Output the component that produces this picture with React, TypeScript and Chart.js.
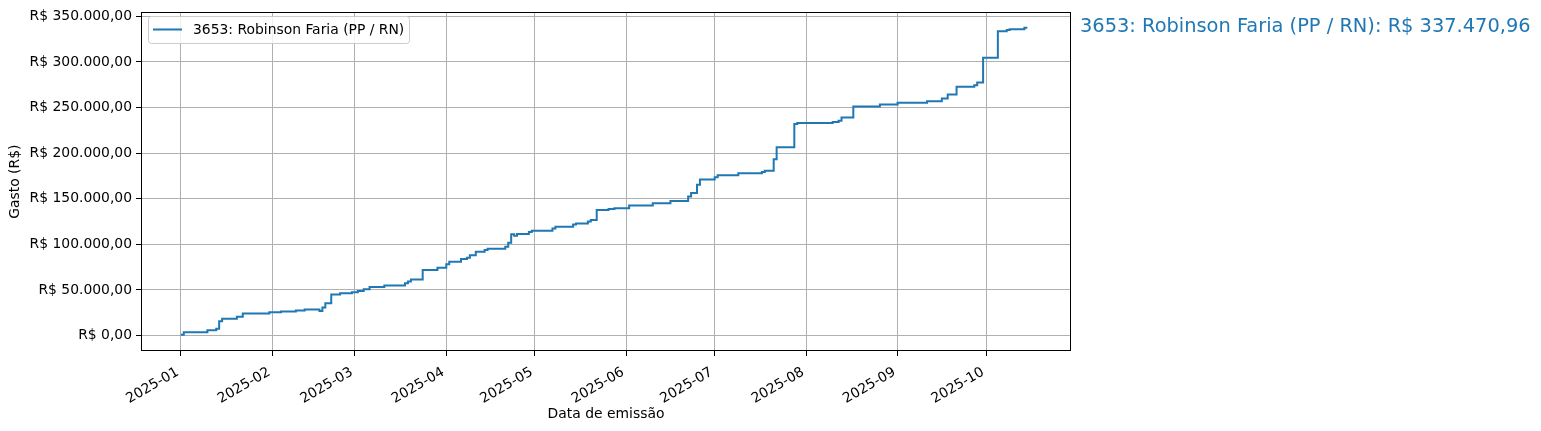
import React, { useEffect, useRef } from 'react';
import { Chart, registerables } from 'chart.js';

Chart.register(...registerables);

// ---- data ----
const emissionDates: string[] = [
  '2025-01-01', '2025-01-02', '2025-01-10', '2025-01-13', '2025-01-14', '2025-01-15',
  '2025-01-20', '2025-01-22', '2025-01-31', '2025-02-04', '2025-02-09', '2025-02-12',
  '2025-02-17', '2025-02-18', '2025-02-19', '2025-02-21', '2025-02-24', '2025-02-28',
  '2025-03-02', '2025-03-04', '2025-03-06', '2025-03-11', '2025-03-18', '2025-03-19',
  '2025-03-20', '2025-03-24', '2025-03-29', '2025-04-01', '2025-04-02', '2025-04-06',
  '2025-04-08', '2025-04-09', '2025-04-11', '2025-04-14', '2025-04-15', '2025-04-21',
  '2025-04-22', '2025-04-23', '2025-04-24', '2025-04-25', '2025-04-29', '2025-04-30',
  '2025-05-07', '2025-05-08', '2025-05-14', '2025-05-15', '2025-05-19', '2025-05-20',
  '2025-05-22', '2025-05-26', '2025-05-28', '2025-06-02', '2025-06-10', '2025-06-16',
  '2025-06-22', '2025-06-23', '2025-06-25', '2025-06-26', '2025-07-01', '2025-07-02',
  '2025-07-09', '2025-07-17', '2025-07-18', '2025-07-21', '2025-07-22', '2025-07-28',
  '2025-07-29', '2025-08-10', '2025-08-12', '2025-08-13', '2025-08-17', '2025-08-26',
  '2025-09-01', '2025-09-11', '2025-09-16', '2025-09-18', '2025-09-21', '2025-09-27',
  '2025-09-28', '2025-09-30', '2025-10-05', '2025-10-08', '2025-10-09', '2025-10-14',
  '2025-10-15',
];

const cumulativeSpend: number[] = [
  1000, 3600, 5800, 7600, 15600, 18500,
  20700, 24300, 25500, 26500, 27600, 28700,
  26900, 30900, 35600, 45000, 46500, 47600,
  49000, 50900, 53400, 54900, 57400, 59200,
  61400, 72000, 74500, 78200, 81000, 84000,
  85400, 88000, 91900, 93800, 95200, 97400,
  101800, 111200, 109400, 111500, 113700, 114800,
  117400, 119200, 121800, 122900, 125000, 126800,
  137700, 138800, 139600, 142600, 145200, 147500,
  152600, 156300, 165400, 171200, 173700, 175900,
  178100, 179200, 180700, 193400, 206500, 231900,
  233000, 234100, 235500, 239200, 251100, 253300,
  255200, 257000, 259900, 264200, 272900, 274400,
  277500, 304600, 333700, 335100, 335800, 337470.96,
  337470.96,
];

const monthTicks: string[] = [
  '2025-01', '2025-02', '2025-03', '2025-04', '2025-05',
  '2025-06', '2025-07', '2025-08', '2025-09', '2025-10',
];

const yTickValues: number[] = [0, 50000, 100000, 150000, 200000, 250000, 300000, 350000];

const seriesLabel = '3653: Robinson Faria (PP / RN)';
const totalLabel = 'R$ 337.470,96';
const xTitle = 'Data de emissão';
const yTitle = 'Gasto (R$)';

// ---- helpers ----
const DAY_MS = 86400000;
const BASE = Date.UTC(2025, 0, 1);
const toDay = (s: string): number => {
  const [y, m, d] = s.split('-').map(Number);
  return (Date.UTC(y, m - 1, d || 1) - BASE) / DAY_MS;
};

const fmtBRL = (v: number): string => {
  const neg = v < 0;
  const fixed = Math.abs(v).toFixed(2);
  const [intPart, dec] = fixed.split('.');
  const withDots = intPart.replace(/\B(?=(\d{3})+(?!\d))/g, '.');
  return (neg ? '-' : '') + 'R$ ' + withDots + ',' + dec;
};

const FONT = 'DejaVu Sans';
const BLUE = '#1f77b4';

const overlayPlugin = {
  id: 'overlayPlugin',
  afterDraw(chart: any) {
    const { ctx, chartArea: a } = chart;
    ctx.save();
    // frame (spines)
    ctx.strokeStyle = '#000';
    ctx.lineWidth = 1;
    ctx.strokeRect(
      Math.round(a.left) + 0.5,
      Math.round(a.top) + 0.5,
      Math.round(a.right - a.left) - 1,
      Math.round(a.bottom - a.top) - 1
    );
    // legend box
    const lx = 148.5, ly = 16.5, lw = 261, lh = 27, r = 3;
    ctx.beginPath();
    ctx.moveTo(lx + r, ly);
    ctx.lineTo(lx + lw - r, ly);
    ctx.quadraticCurveTo(lx + lw, ly, lx + lw, ly + r);
    ctx.lineTo(lx + lw, ly + lh - r);
    ctx.quadraticCurveTo(lx + lw, ly + lh, lx + lw - r, ly + lh);
    ctx.lineTo(lx + r, ly + lh);
    ctx.quadraticCurveTo(lx, ly + lh, lx, ly + lh - r);
    ctx.lineTo(lx, ly + r);
    ctx.quadraticCurveTo(lx, ly, lx + r, ly);
    ctx.closePath();
    ctx.fillStyle = 'rgba(255,255,255,0.8)';
    ctx.fill();
    ctx.strokeStyle = '#cccccc';
    ctx.lineWidth = 1;
    ctx.stroke();
    ctx.beginPath();
    ctx.moveTo(153, 29.5);
    ctx.lineTo(182, 29.5);
    ctx.strokeStyle = BLUE;
    ctx.lineWidth = 2;
    ctx.stroke();
    ctx.fillStyle = '#000';
    ctx.font = `13.9px "${FONT}"`;
    ctx.textBaseline = 'middle';
    ctx.textAlign = 'left';
    ctx.fillText(seriesLabel, 193, 30.5);
    // annotation at right
    ctx.fillStyle = BLUE;
    ctx.font = `19.4px "${FONT}"`;
    ctx.textBaseline = 'alphabetic';
    ctx.fillText(`${seriesLabel}: ${totalLabel}`, 1080, 32);
    ctx.restore();
  },
};

export default function App() {
  const canvasRef = useRef<HTMLCanvasElement | null>(null);

  useEffect(() => {
    const canvas = canvasRef.current;
    if (!canvas) return;
    const points = emissionDates.map((d, i) => ({ x: toDay(d), y: cumulativeSpend[i] }));
    const tickFont = { family: FONT, size: 13.9 };
    const chart = new Chart(canvas, {
      type: 'line',
      data: {
        datasets: [
          {
            label: seriesLabel,
            data: points,
            stepped: 'before',
            borderColor: BLUE,
            backgroundColor: BLUE,
            borderWidth: 2,
            pointRadius: 0,
            fill: false,
          },
        ],
      },
      options: {
        responsive: false,
        animation: false,
        devicePixelRatio: 1,
        layout: { padding: { left: 0, right: 470, top: 11, bottom: 0 } },
        plugins: {
          legend: { display: false },
          tooltip: { enabled: false },
        },
        scales: {
          x: {
            type: 'linear',
            min: -13.5,
            max: 301.8,
            afterBuildTicks: (s: any) => {
              s.ticks = monthTicks.map((m) => ({ value: toDay(m) }));
            },
            afterFit: (s: any) => {
              s.height = 80;
            },
            grid: { color: '#b0b0b0', lineWidth: 1, tickColor: '#000', tickLength: 5 },
            border: { display: false },
            ticks: {
              autoSkip: false,
              maxRotation: 30,
              minRotation: 30,
              padding: 8,
              labelOffset: -3,
              color: '#000',
              font: tickFont,
              callback: (_v: any, i: number) => monthTicks[i],
            },
            title: {
              display: true,
              text: xTitle,
              color: '#000',
              font: tickFont,
              padding: { top: 0, bottom: 8 },
            },
          },
          y: {
            type: 'linear',
            min: -16874,
            max: 354345,
            afterBuildTicks: (s: any) => {
              s.ticks = yTickValues.map((v) => ({ value: v }));
            },
            afterFit: (s: any) => {
              s.width = 141;
            },
            grid: { color: '#b0b0b0', lineWidth: 1, tickColor: '#000', tickLength: 5 },
            border: { display: false },
            ticks: {
              padding: 4,
              color: '#000',
              font: tickFont,
              callback: (v: any) => fmtBRL(Number(v)),
            },
            title: {
              display: true,
              text: yTitle,
              color: '#000',
              font: tickFont,
              padding: { top: 7, bottom: 0 },
            },
          },
        },
      },
      plugins: [overlayPlugin],
    } as any);
    return () => chart.destroy();
  }, []);

  return (
    <div style={{ position: 'fixed', left: 0, top: 0, width: 1541, height: 431, background: '#fff' }}>
      <canvas ref={canvasRef} width={1541} height={431} style={{ display: 'block' }} />
    </div>
  );
}
